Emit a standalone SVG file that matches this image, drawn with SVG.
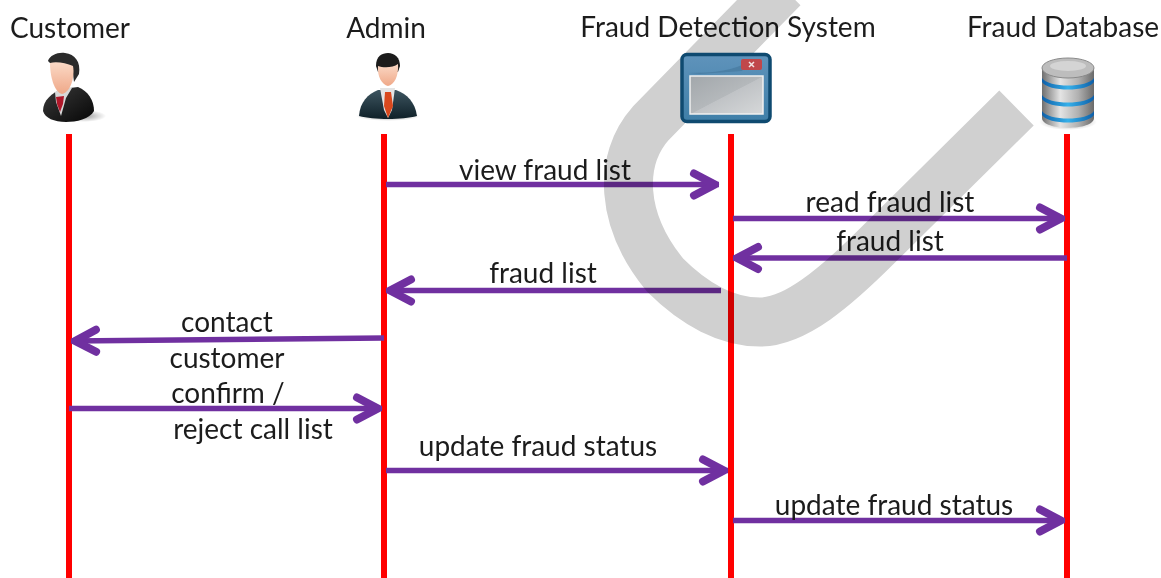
<svg xmlns="http://www.w3.org/2000/svg" width="1161" height="578" viewBox="0 0 1161 578">
<style>
text{font-family:"Lato","Liberation Sans",sans-serif;font-size:28px;fill:#1c1c1c;text-anchor:middle}
.life{stroke:#ff0000;stroke-width:6;fill:none}
.msg{stroke:#7030a0;stroke-width:5.5;fill:none}
.end{marker-end:url(#head)}
</style>
<defs>
<marker id="head" markerUnits="userSpaceOnUse" markerWidth="40" markerHeight="40" refX="35" refY="20" orient="auto" viewBox="0 0 40 40">
<path d="M10 9L31 20L10 31" fill="none" stroke="#7030a0" stroke-width="8" stroke-linecap="round" stroke-linejoin="round"/>
</marker>
<linearGradient id="suit" x1="0" y1="0" x2="1" y2="1"><stop offset="0" stop-color="#3a3a3a"/><stop offset="1" stop-color="#060606"/></linearGradient>
<linearGradient id="suit2" x1="0" y1="0" x2="0" y2="1"><stop offset="0" stop-color="#3d5560"/><stop offset="1" stop-color="#0f2028"/></linearGradient>
<linearGradient id="face" x1="0" y1="0" x2="0" y2="1"><stop offset="0" stop-color="#fbd9c6"/><stop offset="1" stop-color="#efa888"/></linearGradient>
<linearGradient id="winbg" x1="0" y1="0" x2="0" y2="1"><stop offset="0" stop-color="#5f93bb"/><stop offset="1" stop-color="#3f7fa8"/></linearGradient>
<linearGradient id="pane" x1="0" y1="0" x2="1" y2="1"><stop offset="0" stop-color="#a2a7ab"/><stop offset=".5" stop-color="#b4b8bb"/><stop offset=".51" stop-color="#c0c3c6"/><stop offset="1" stop-color="#d6d8d9"/></linearGradient>
<linearGradient id="metal" x1="0" y1="0" x2="1" y2="0"><stop offset="0" stop-color="#6f6f6f"/><stop offset=".35" stop-color="#e4e4e4"/><stop offset=".7" stop-color="#b0b0b0"/><stop offset="1" stop-color="#6a6a6a"/></linearGradient>
<linearGradient id="blue" x1="0" y1="0" x2="1" y2="0"><stop offset="0" stop-color="#0f5fa8"/><stop offset=".5" stop-color="#35b0ea"/><stop offset="1" stop-color="#0f5fa8"/></linearGradient>
<radialGradient id="shadow"><stop offset="0" stop-color="#000" stop-opacity=".4"/><stop offset="1" stop-color="#000" stop-opacity="0"/></radialGradient>
</defs>

<g id="connectors">
<path class="life" d="M69 134V578"/>
<path class="life" d="M384 134V578"/>
<path class="life" d="M731 134V578"/>
<path class="life" d="M1067 134V578"/>
<path class="msg end" d="M386 184.500H719"/>
<path class="msg end" d="M733 218.500H1065"/>
<path class="msg end" d="M1067 258H733"/>
<path class="msg end" d="M721 290.500H386"/>
<path class="msg end" d="M384 338L71 341"/>
<path class="msg end" d="M69 408.500H382"/>
<path class="msg end" d="M386 470.500H728"/>
<path class="msg end" d="M733 520.500H1065"/>
</g>

<text x="70" y="38">Customer</text>
<text x="386" y="38">Admin</text>
<text x="728" y="37">Fraud Detection System</text>
<text x="1063" y="37">Fraud Database</text>
<text x="545" y="180">view fraud list</text>
<text x="890" y="212">read fraud list</text>
<text x="890" y="251">fraud list</text>
<text x="543" y="283">fraud list</text>
<text x="227" y="332">contact</text>
<text x="227" y="368">customer</text>
<text x="228" y="403">confirm /</text>
<text x="253" y="439">reject call list</text>
<text x="538" y="456">update fraud status</text>
<text x="894" y="515">update fraud status</text>

<path id="background-stroke" d="M783 -12L651 123C618 160 620 220 665 275C695 305 728 322 760 322C795 322 835 288 878 245L1016.500 108" fill="none" stroke="#d0d0d0" stroke-width="49" style="mix-blend-mode:multiply"/>

<g id="customer">
<ellipse cx="84" cy="116" rx="22" ry="6" fill="url(#shadow)"/>
<path d="M43 111C43 100 52 93 62 89L78 87C88 91 94 100 94 111C90 119 76 122 66 122C54 122 45 118 43 111Z" fill="url(#suit)"/>
<path d="M55 92L64 86L72 88L66 98L61 116L56 102Z" fill="#d8d8d8"/>
<path d="M56 97L64 96L63 104L60 112L57 104Z" fill="#b0182a"/>
<path d="M48 61C50 55 58 52 65 53C75 54 81 62 79 74L74 82L72 66L50 63Z" fill="#2b2b2b"/>
<path d="M50 63C56 61 66 63 73 66C75 76 71 92 62 94C54 92 50 76 50 63Z" fill="url(#face)"/>
</g>
<g id="admin">
<ellipse cx="388" cy="116" rx="32" ry="5" fill="url(#shadow)"/>
<path d="M359 116C360 102 368 94 378 90L396 90C407 94 415 102 417 116C402 120 374 120 359 116Z" fill="url(#suit2)"/>
<path d="M380 88H395L392 110L388 118L384 110Z" fill="#e4e4e4"/>
<path d="M385 92H391L393 106L388 118L384 106Z" fill="#d9491e"/>
<path d="M376 66C376 56 382 53 388 53C395 53 400 58 400 66L398 72H378Z" fill="#1c1c1c"/>
<path d="M378 66C383 68 393 68 398 64C399 76 394 85 388 86C382 85 377 76 378 66Z" fill="url(#face)"/>
</g>
<g id="fraud-detection-system">
<rect x="682" y="54.500" width="88" height="67" rx="5" fill="url(#winbg)" stroke="#0f4a70" stroke-width="3.500"/>
<rect x="690" y="76" width="73" height="38" fill="url(#pane)" stroke="#f0f0f0" stroke-width="1.500"/>
<path d="M688 73C715 73 735 70 748 62L742 71L700 74Z" fill="#3f7196" opacity=".5"/>
<rect x="741" y="59" width="21" height="11" rx="2" fill="#c0474b"/>
<path d="M749 62L754 67M754 62L749 67" stroke="#f2e4e4" stroke-width="1.500"/>
</g>
<g id="fraud-database">
<ellipse cx="1068" cy="122" rx="29" ry="8" fill="url(#shadow)"/>
<path d="M1042 68V118C1042 131 1094 131 1094 118V68Z" fill="url(#metal)"/>
<ellipse cx="1068" cy="68" rx="26" ry="10" fill="#bdbdbd" stroke="#8a8a8a" stroke-width="1"/>
<ellipse cx="1068" cy="66" rx="18" ry="5" fill="#d4d4d4"/>
<path d="M1042 78C1048 88 1088 88 1094 78V82C1088 92 1048 92 1042 82Z" fill="url(#blue)"/>
<path d="M1042 95C1048 105 1088 105 1094 95V99C1088 109 1048 109 1042 99Z" fill="url(#blue)"/>
<path d="M1042 111C1048 121 1088 121 1094 111V115C1088 125 1048 125 1042 115Z" fill="url(#blue)"/>
</g>
</svg>
